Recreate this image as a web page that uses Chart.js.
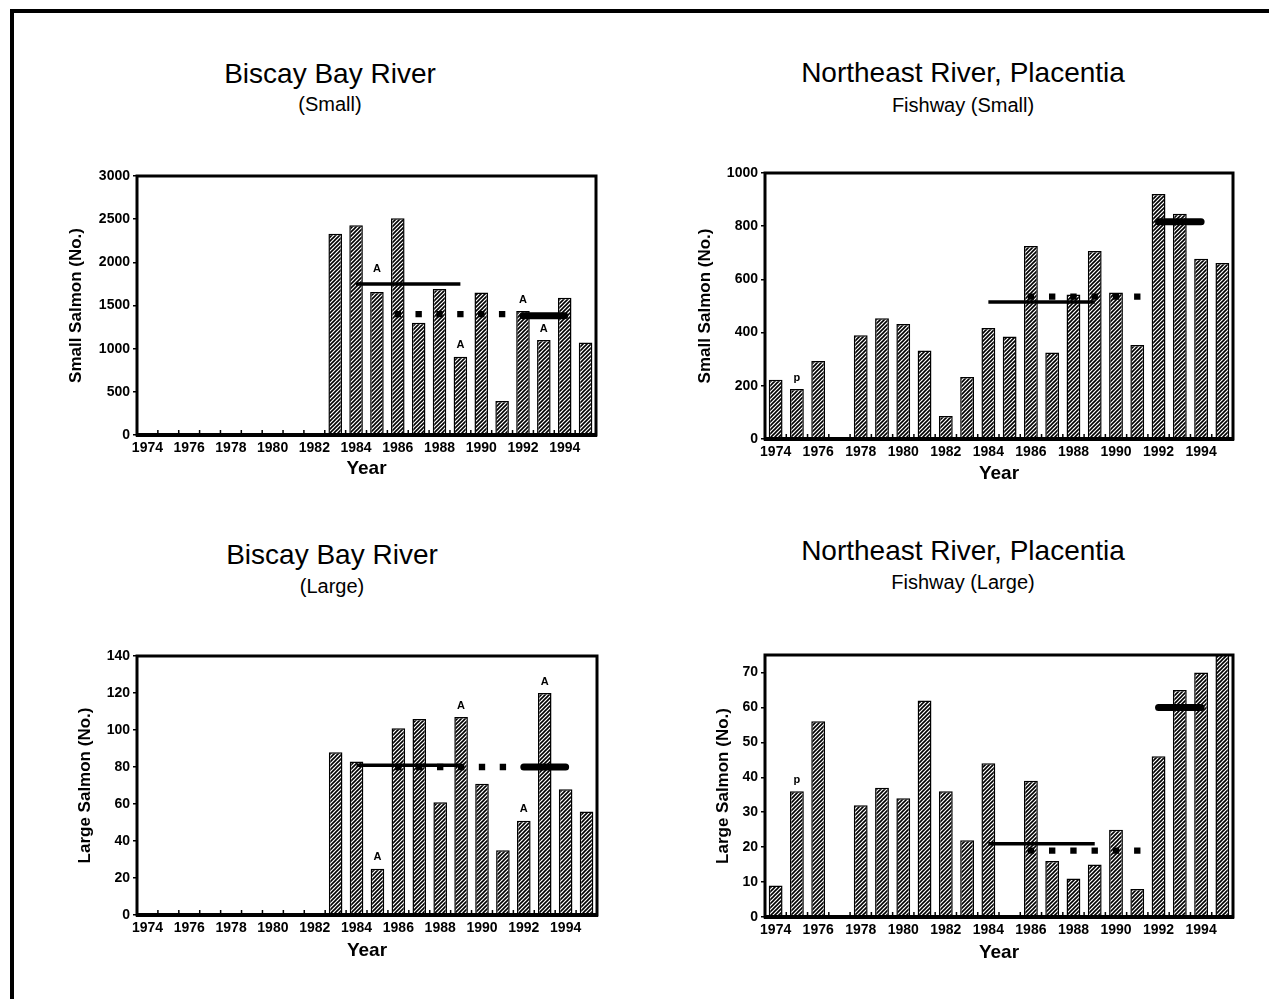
<!DOCTYPE html>
<html lang="en">
<head>
<meta charset="UTF-8">
<title>Salmon counts - Biscay Bay River and Northeast River, Placentia</title>
<script src="https://cdn.jsdelivr.net/npm/chart.js@4.4.0/dist/chart.umd.min.js"></script>
<style>
    body { margin: 0; width: 1269px; height: 999px; overflow: hidden; position: relative; background: #fff;
           font-family: "Liberation Sans", Arial, sans-serif; color: #000; }
    .frame { position: absolute; left: 10px; top: 9px; width: 1400px; height: 1100px;
             border-left: 4px solid #000; border-top: 4px solid #000; }
    .title { position: absolute; width: 500px; text-align: center; font-size: 28px; line-height: 28px; white-space: nowrap; }
    .sub { position: absolute; width: 500px; text-align: center; font-size: 20px; line-height: 20px; white-space: nowrap; }
    canvas { position: absolute; }
</style>
</head>
<body>
<div class="frame"></div>

<!-- panel headings -->
<div class="title" style="left:80px; top:60px;">Biscay Bay River</div>
<div class="sub" style="left:80px; top:94px;">(Small)</div>
<div class="title" style="left:713px; top:59px;">Northeast River, Placentia</div>
<div class="sub" style="left:713px; top:95px;">Fishway (Small)</div>
<div class="title" style="left:82px; top:541px;">Biscay Bay River</div>
<div class="sub" style="left:82px; top:576px;">(Large)</div>
<div class="title" style="left:713px; top:537px;">Northeast River, Placentia</div>
<div class="sub" style="left:713px; top:572px;">Fishway (Large)</div>

<canvas id="biscay-small" width="543" height="322" style="left:63px; top:160px;"></canvas>
<canvas id="northeast-small" width="551" height="327" style="left:692px; top:160px;"></canvas>
<canvas id="biscay-large" width="535" height="324" style="left:72px; top:640px;"></canvas>
<canvas id="northeast-large" width="533" height="326" style="left:710px; top:640px;"></canvas>

<script>
    // Years on the x axis
    const years = ['1974', '1975', '1976', '1977', '1978', '1979', '1980', '1981', '1982', '1983', '1984',
                   '1985', '1986', '1987', '1988', '1989', '1990', '1991', '1992', '1993', '1994', '1995'];

    // Biscay Bay River, small salmon
    const biscaySmall = [null, null, null, null, null, null, null, null, null,
                         2330, 2430, 1655, 2510, 1300, 1690, 905, 1650, 395, 1435, 1100, 1590, 1070];
    const biscaySmallSolid = [['1984', 1750], ['1989', 1750]];
    const biscaySmallDots = [['1986', 1400], ['1987', 1400], ['1988', 1400], ['1989', 1400], ['1990', 1400], ['1991', 1400]];
    const biscaySmallThick = [['1992', 1380], ['1994', 1380]];
    const biscaySmallNotes = [['1985', 'A'], ['1989', 'A'], ['1992', 'A'], ['1993', 'A']];
    const biscaySmallTicks = [0, 500, 1000, 1500, 2000, 2500, 3000];

    // Northeast River, Placentia fishway, small salmon
    const northeastSmall = [223, 188, 293, null, 390, 454, 432, 333, 86, 233, 417,
                            385, 726, 325, 543, 707, 551, 353, 921, 847, 678, 662];
    const northeastSmallSolid = [['1984', 515], ['1989', 515]];
    const northeastSmallDots = [['1986', 535], ['1987', 535], ['1988', 535], ['1989', 535], ['1990', 535], ['1991', 535]];
    const northeastSmallThick = [['1992', 817], ['1994', 817]];
    const northeastSmallNotes = [['1975', 'p']];
    const northeastSmallTicks = [0, 200, 400, 600, 800, 1000];

    // Biscay Bay River, large salmon
    const biscayLarge = [null, null, null, null, null, null, null, null, null,
                         88, 83, 25, 101, 106, 61, 107, 71, 35, 51, 120, 68, 56];
    const biscayLargeSolid = [['1984', 81], ['1989', 81]];
    const biscayLargeDots = [['1986', 80], ['1987', 80], ['1988', 80], ['1989', 80], ['1990', 80], ['1991', 80]];
    const biscayLargeThick = [['1992', 80], ['1994', 80]];
    const biscayLargeNotes = [['1985', 'A'], ['1989', 'A'], ['1992', 'A'], ['1993', 'A']];
    const biscayLargeTicks = [0, 20, 40, 60, 80, 100, 120, 140];

    // Northeast River, Placentia fishway, large salmon
    const northeastLarge = [9, 36, 56, null, 32, 37, 34, 62, 36, 22, 44,
                            null, 39, 16, 11, 15, 25, 8, 46, 65, 70, 77];
    const northeastLargeSolid = [['1984', 21], ['1989', 21]];
    const northeastLargeDots = [['1986', 19], ['1987', 19], ['1988', 19], ['1989', 19], ['1990', 19], ['1991', 19]];
    const northeastLargeThick = [['1992', 60], ['1994', 60]];
    const northeastLargeNotes = [['1975', 'p']];
    const northeastLargeTicks = [0, 10, 20, 30, 40, 50, 60, 70];

    Chart.defaults.font.family = '"Liberation Sans", Arial, sans-serif';
    Chart.defaults.color = '#000';

    // diagonal hatch fill like the old scanned bars
    function hatch(ctx) {
        const n = 4;
        const tile = document.createElement('canvas');
        tile.width = n;
        tile.height = n;
        const g = tile.getContext('2d');
        g.fillStyle = '#fff';
        g.fillRect(0, 0, n, n);
        g.strokeStyle = '#000';
        g.lineWidth = 1.6;
        g.beginPath();
        g.moveTo(-1, n + 1); g.lineTo(n + 1, -1);
        g.moveTo(-1, 1); g.lineTo(1, -1);
        g.moveTo(n - 1, n + 1); g.lineTo(n + 1, n - 1);
        g.stroke();
        return ctx.createPattern(tile, 'repeat');
    }

    // heavy box round the plot area, with the little inner ticks on the year axis
    const framePlugin = {
        id: 'frame',
        afterDraw(chart) {
            const { ctx, chartArea: a } = chart;
            const xs = chart.scales.x;
            ctx.save();
            ctx.strokeStyle = '#000';
            ctx.lineWidth = 1.5;
            ctx.beginPath();
            for (let i = 0; i < years.length - 1; i++) {
                const x = (xs.getPixelForValue(i) + xs.getPixelForValue(i + 1)) / 2;
                ctx.moveTo(x, a.bottom);
                ctx.lineTo(x, a.bottom - 5);
            }
            ctx.stroke();
            ctx.lineWidth = 3;
            ctx.strokeRect(a.left, a.top, a.right - a.left, a.bottom - a.top);
            ctx.lineWidth = 4;
            ctx.beginPath();
            ctx.moveTo(a.left - 1, a.bottom);
            ctx.lineTo(a.right + 1, a.bottom);
            ctx.stroke();
            ctx.restore();
        }
    };

    // small letters (A, p) written above some bars
    const notesPlugin = {
        id: 'barNotes',
        afterDatasetsDraw(chart, args, opts) {
            const meta = chart.getDatasetMeta(3);
            const ctx = chart.ctx;
            ctx.save();
            ctx.font = 'bold 11px "Liberation Sans", Arial, sans-serif';
            ctx.fillStyle = '#000';
            ctx.textAlign = 'center';
            ctx.textBaseline = 'bottom';
            (opts.notes || []).forEach(([year, text]) => {
                const el = meta.data[years.indexOf(year)];
                const lift = (opts.lift && opts.lift[year]) || 0;
                ctx.fillText(text, el.x, el.y - 6 - lift);
            });
            ctx.restore();
        }
    };

    function drawPanel(id, bars, solid, dots, thick, notes, tickList, yMax, yTitle, box) {
        const ctx = document.getElementById(id).getContext('2d');
        const pts = list => list.map(p => ({ x: p[0], y: p[1] }));
        return new Chart(ctx, {
            data: {
                labels: years,
                datasets: [
                    { type: 'line', data: pts(thick), borderColor: '#000', borderWidth: 7,
                      borderCapStyle: 'round', pointRadius: 0, order: 0 },
                    { type: 'line', data: pts(solid), borderColor: '#000', borderWidth: 3.5,
                      pointRadius: 0, order: 1 },
                    { type: 'line', data: pts(dots), showLine: false, pointStyle: 'rect', pointRadius: 4.5,
                      pointBackgroundColor: '#000', pointBorderWidth: 0, order: 2 },
                    { type: 'bar', data: bars, backgroundColor: hatch(ctx), borderColor: '#000', borderWidth: 1.5,
                      barPercentage: 0.65, categoryPercentage: 1, order: 3 }
                ]
            },
            options: {
                responsive: false,
                animation: false,
                devicePixelRatio: 1,
                layout: { padding: { top: box.padTop, right: 10, left: 0, bottom: 0 } },
                plugins: {
                    legend: { display: false },
                    tooltip: { enabled: false },
                    barNotes: { notes: notes, lift: box.lift }
                },
                scales: {
                    x: {
                        type: 'category',
                        offset: true,
                        grid: { display: false, drawTicks: false },
                        border: { display: false },
                        ticks: {
                            autoSkip: false, maxRotation: 0, minRotation: 0, padding: 5,
                            font: { size: 14, weight: 'bold' }, color: '#000',
                            callback: v => (Number(years[v]) % 2 === 0 ? years[v] : '')
                        },
                        title: { display: true, text: 'Year', font: { size: 19, weight: 'bold' }, color: '#000',
                                 padding: { top: 0, bottom: 2 } },
                        afterFit: s => { s.height = box.xH; }
                    },
                    y: {
                        min: 0,
                        max: yMax,
                        afterBuildTicks: s => { s.ticks = tickList.map(v => ({ value: v })); },
                        ticks: { font: { size: 14, weight: 'bold' }, color: '#000', padding: 3,
                                 callback: v => String(v) },
                        grid: { drawOnChartArea: false, tickLength: 4, color: '#000', lineWidth: 1.5 },
                        border: { display: false },
                        title: { display: true, text: yTitle, font: { size: 17, weight: 'bold' }, color: '#000',
                                 padding: { top: 3, bottom: 0 } },
                        afterFit: s => { s.width = box.yW; }
                    }
                }
            },
            plugins: [framePlugin, notesPlugin]
        });
    }

    drawPanel('biscay-small', biscaySmall, biscaySmallSolid, biscaySmallDots, biscaySmallThick,
              biscaySmallNotes, biscaySmallTicks, 3000, 'Small Salmon (No.)',
              { yW: 74, xH: 47, padTop: 16, lift: { '1985': 12 } });
    drawPanel('northeast-small', northeastSmall, northeastSmallSolid, northeastSmallDots, northeastSmallThick,
              northeastSmallNotes, northeastSmallTicks, 1000, 'Small Salmon (No.)',
              { yW: 73, xH: 48, padTop: 13 });
    drawPanel('biscay-large', biscayLarge, biscayLargeSolid, biscayLargeDots, biscayLargeThick,
              biscayLargeNotes, biscayLargeTicks, 140, 'Large Salmon (No.)',
              { yW: 65, xH: 49, padTop: 16 });
    drawPanel('northeast-large', northeastLarge, northeastLargeSolid, northeastLargeDots, northeastLargeThick,
              northeastLargeNotes, northeastLargeTicks, 75, 'Large Salmon (No.)',
              { yW: 55, xH: 49, padTop: 15 });
</script>
</body>
</html>
